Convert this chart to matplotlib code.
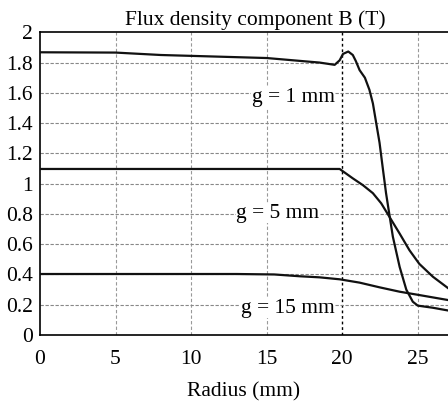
import matplotlib
matplotlib.use("Agg")
import matplotlib.pyplot as plt

plt.rcParams['font.family'] = ['Liberation Serif', 'DejaVu Serif']

# g = 1 mm
r_g1 = [0, 5, 8, 15, 18.5, 19.5, 19.83, 20.05, 20.4, 20.7, 20.9, 21.15, 21.5, 21.8, 22.03, 22.25, 22.47, 22.7, 22.9, 23.13, 23.35, 23.8, 24.24, 24.67, 25.0, 26.0, 27.0]
b_g1 = [1.868, 1.866, 1.85, 1.83, 1.80, 1.785, 1.815, 1.857, 1.873, 1.85, 1.81, 1.75, 1.70, 1.62, 1.53, 1.40, 1.27, 1.09, 0.937, 0.79, 0.65, 0.45, 0.30, 0.22, 0.194, 0.18, 0.162]
# g = 5 mm
r_g5 = [0, 19.83, 20.7, 21.37, 22.03, 22.58, 23.13, 23.8, 24.45, 25.1, 26.0, 27.0]
b_g5 = [1.097, 1.097, 1.035, 0.99, 0.937, 0.87, 0.78, 0.67, 0.56, 0.47, 0.385, 0.31]
# g = 15 mm
r_g15 = [0, 13, 15.5, 17.2, 18.5, 19.83, 21.15, 22.47, 23.8, 25.1, 27.0]
b_g15 = [0.403, 0.403, 0.40, 0.388, 0.381, 0.368, 0.346, 0.315, 0.286, 0.264, 0.231]

labels = ["g = 1 mm", "g = 5 mm", "g = 15 mm"]
label_x = [19.5, 18.5, 19.5]
label_y = [1.57, 0.805, 0.178]

xticks = [0, 5, 10, 15, 20, 25]
yticks = [0, 0.2, 0.4, 0.6, 0.8, 1, 1.2, 1.4, 1.6, 1.8, 2]
ytick_labels = ["0", "0.2", "0.4", "0.6", "0.8", "1", "1.2", "1.4", "1.6", "1.8", "2"]

FS = 15.5

fig = plt.figure(figsize=(4.48, 4.01), dpi=100)
ax = fig.add_axes([40/448, 66/401, 1 - 40/448, (335 - 32.3)/401])

ax.set_xlim(0, 27)
ax.set_ylim(0, 2)
ax.set_xticks(xticks)
ax.set_yticks(yticks)
ax.set_yticklabels(ytick_labels)
ax.tick_params(length=0, labelsize=FS)
ax.tick_params(axis='x', pad=11)
ax.tick_params(axis='y', pad=5)

for x in xticks[1:]:
    if x == 20:
        ax.axvline(x, color='black', linestyle=(0, (2, 2)), linewidth=1.0, zorder=1)
    else:
        ax.axvline(x, color='#999999', linestyle=(0, (3, 2)), linewidth=0.8, zorder=1)
for y in yticks[1:-1]:
    ax.axhline(y, color='#888888', linestyle=(0, (3, 1.5)), linewidth=0.8, zorder=1)

for r, b in [(r_g1, b_g1), (r_g5, b_g5), (r_g15, b_g15)]:
    ax.plot(r, b, color='#111111', linewidth=1.6, zorder=3)

for t, x, y in zip(labels, label_x, label_y):
    ax.text(x, y, t, ha='right', va='center', fontsize=FS,
            bbox=dict(facecolor='white', edgecolor='none', pad=0.5), zorder=2)

ax.spines['right'].set_visible(False)
for s in ['left', 'bottom', 'top']:
    ax.spines[s].set_linewidth(1.2)
    ax.spines[s].set_color('black')

ax.set_title("Flux density component B (T)", fontsize=FS, pad=5, x=0.527)
ax.set_xlabel("Radius (mm)", fontsize=FS, labelpad=9)

fig.savefig("out.png", dpi=100)
